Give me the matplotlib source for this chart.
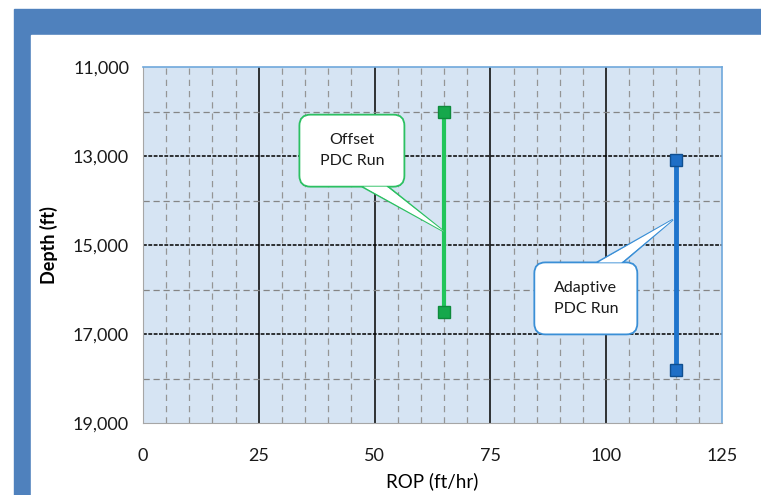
import matplotlib
matplotlib.use("Agg")
import matplotlib.pyplot as plt
from matplotlib.patches import Rectangle, FancyBboxPatch, Polygon
from matplotlib.transforms import IdentityTransform

plt.rcParams['font.family'] = ['Lato', 'DejaVu Sans']

# runs: ROP (ft/hr) vs start/end depth (ft)
offset_rop = [65, 65]
offset_depth = [12000, 16500]
adaptive_rop = [115, 115]
adaptive_depth = [13100, 17800]

x_ticks = [0, 25, 50, 75, 100, 125]
y_ticks = [11000, 13000, 15000, 17000, 19000]

GREEN = '#22c55a'
BLUE = '#1f74cc'

fig = plt.figure(figsize=(7.61, 4.95), dpi=100)

# slide-style frame behind the chart
fig.patches.append(Rectangle((14 / 761, 0), (761 - 14) / 761, (495 - 9) / 495,
                             transform=fig.transFigure, color='#4f81bd', zorder=-2))
fig.patches.append(Rectangle((31 / 761, 0), (761 - 31) / 761, (495 - 35) / 495,
                             transform=fig.transFigure, color='white', zorder=-1))

ax = fig.add_axes([143 / 761, 72 / 495, 579 / 761, 356 / 495])
ax.set_facecolor('#d6e4f3')
ax.set_xlim(0, 125)
ax.set_ylim(19000, 11000)

# minor grid (dashed gray) then major grid (black)
for xv in range(5, 125, 5):
    if xv % 25:
        ax.axvline(xv, color='#959595', lw=0.9, ls=(0, (5, 4)), zorder=1)
for xv in x_ticks[1:-1]:
    ax.axvline(xv, color='black', lw=1.1, zorder=1)
for yv in range(12000, 19000, 2000):
    ax.axhline(yv, color='#858585', lw=0.9, ls=(0, (5, 3)), zorder=1)
for yv in y_ticks[1:-1]:
    ax.axhline(yv, color='black', lw=1.1, ls=(0, (2.5, 1)), zorder=1)

ax.set_xticks(x_ticks)
ax.set_yticks(y_ticks)
ax.set_yticklabels([f'{v:,}' for v in y_ticks])
ax.tick_params(length=0, labelsize=13, colors='#1a1a1a')
ax.tick_params(axis='x', pad=18)
ax.tick_params(axis='y', pad=10)

for side in ['left', 'bottom']:
    ax.spines[side].set_color('#a6a6a6')
for side in ['top', 'right']:
    ax.spines[side].set_color('#6fa8dc')
    ax.spines[side].set_linewidth(1.2)

ax.set_xlabel('ROP (ft/hr)', fontsize=13.5, labelpad=6)
ax.set_ylabel('Depth (ft)', fontsize=13, fontweight='bold', labelpad=11)

ax.plot(offset_rop, offset_depth, color=GREEN, lw=3, marker='s', ms=9,
        mfc='#16a84c', mec='#0f8a3c', zorder=4)
ax.plot(adaptive_rop, adaptive_depth, color=BLUE, lw=3.5, marker='s', ms=9,
        mfc='#1f6fc6', mec='#0f4f90', zorder=4)


def callout(text, center, size, base, tip, color):
    # rounded box with a wedge pointer, laid out in display pixels
    cx, cy = ax.transData.transform(center)
    bx, by = ax.transData.transform(base)
    tx, ty = ax.transData.transform(tip)
    w, h = size
    r = 11
    box = FancyBboxPatch((cx - w / 2 + r, cy - h / 2 + r), w - 2 * r, h - 2 * r,
                         boxstyle=f'round,pad={r}', transform=IdentityTransform(),
                         fc='white', ec=color, lw=1.3, zorder=6)
    half = 13
    edge_y = cy - h / 2 if by < cy else cy + h / 2
    wedge = [(bx - half, edge_y), (bx + half, edge_y), (tx, ty)]
    fig.patches.append(Polygon(wedge, closed=True, transform=IdentityTransform(),
                               fc='white', ec=color, lw=1.3, zorder=5))
    fig.patches.append(box)
    inner = [(bx - half + 1.5, edge_y), (bx + half - 1.5, edge_y), (tx, ty)]
    fig.patches.append(Polygon(inner, closed=True, transform=IdentityTransform(),
                               fc='white', ec='none', zorder=7))
    fig.text(cx / fig.dpi / fig.get_figwidth(), cy / fig.dpi / fig.get_figheight(),
             text, ha='center', va='center', fontsize=11.5, color='#1a1a1a',
             linespacing=1.6, zorder=8)


callout('Offset\nPDC Run', (45.1, 12880), (105, 72), (50.1, 13690), (65, 14700), '#2cc062')
callout('Adaptive\nPDC Run', (95.6, 16200), (103, 72), (100.8, 15380), (114.4, 14430), '#3a8fd6')

fig.savefig('out.png', dpi=100)
